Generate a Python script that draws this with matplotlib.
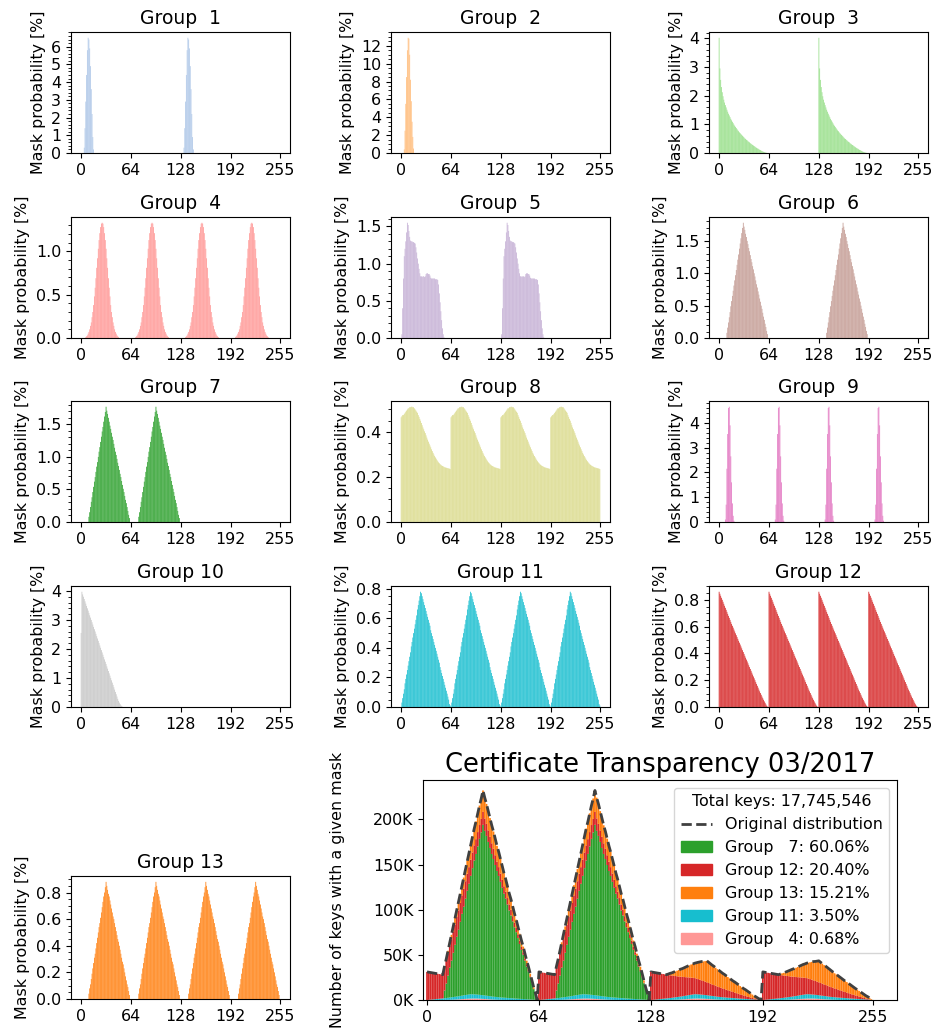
import numpy as np
import matplotlib
matplotlib.use("Agg")
import matplotlib.pyplot as plt
from matplotlib.ticker import MultipleLocator, AutoMinorLocator, FuncFormatter
from matplotlib.patches import Patch
from matplotlib.lines import Line2D

plt.rcParams['font.family'] = 'DejaVu Sans'
plt.rcParams['font.size'] = 11.4

# ---------------------------------------------------------------------------
# Mask probability [%] per group.  Each shape is one copy of the repeating
# pattern; the *_STARTS lists give the first mask value of every copy.
# ---------------------------------------------------------------------------
MASK_TICKS = [0, 64, 128, 192, 255]

G1_SHAPE = [0.3, 1.4, 2.9, 4.4, 5.8, 6.5, 6.4, 5.9, 4.9, 3.6, 2.2, 0.9, 0.2]
G1_STARTS = [4, 132]

G2_SHAPE = [0.4, 2.5, 5.5, 8.5, 11.5, 12.9, 12.8, 11.0, 8.2, 5.8, 3.5, 1.8, 0.5]
G2_STARTS = [4]

G3_SHAPE = [4.02, 2.95, 2.55, 2.30, 2.12, 1.98, 1.86, 1.76, 1.67, 1.59,
            1.51, 1.44, 1.37, 1.31, 1.25, 1.19, 1.14, 1.09, 1.04, 0.99,
            0.95, 0.91, 0.87, 0.83, 0.79, 0.76, 0.72, 0.69, 0.66, 0.63,
            0.60, 0.57, 0.54, 0.51, 0.49, 0.46, 0.44, 0.41, 0.39, 0.37,
            0.34, 0.32, 0.30, 0.28, 0.26, 0.24, 0.22, 0.20, 0.18, 0.16,
            0.15, 0.13, 0.11, 0.10, 0.08, 0.07, 0.05, 0.04, 0.03, 0.02,
            0.01, 0.005]
G3_STARTS = [0, 128]

G4_SHAPE = [0.01, 0.02, 0.03, 0.05, 0.07, 0.10, 0.14, 0.18, 0.24, 0.30,
            0.38, 0.48, 0.58, 0.69, 0.81, 0.92, 1.03, 1.13, 1.21, 1.28,
            1.32, 1.33, 1.32, 1.28, 1.21, 1.13, 1.03, 0.92, 0.81, 0.69,
            0.58, 0.48, 0.38, 0.30, 0.24, 0.18, 0.14, 0.10, 0.07, 0.05,
            0.03, 0.02, 0.01]
G4_STARTS = [6, 70, 134, 198]

G5_SHAPE = [0.0, 0.05, 0.40, 0.80, 1.10, 1.20, 1.30, 1.42, 1.55, 1.52,
            1.44, 1.36, 1.31, 1.30, 1.30, 1.29, 1.29, 1.28, 1.27, 1.22,
            1.15, 1.07, 1.00, 0.93, 0.87, 0.83, 0.83, 0.82, 0.83, 0.83,
            0.82, 0.83, 0.86, 0.87, 0.87, 0.86, 0.86, 0.84, 0.81, 0.80,
            0.80, 0.80, 0.80, 0.80, 0.79, 0.79, 0.79, 0.78, 0.72, 0.60,
            0.48, 0.36, 0.24, 0.13, 0.05, 0.01]
G5_STARTS = [0, 128]

G6_SHAPE = [0.0, 0.08, 0.16, 0.24, 0.32, 0.40, 0.49, 0.57, 0.65, 0.73,
            0.81, 0.89, 0.97, 1.05, 1.13, 1.21, 1.29, 1.38, 1.46, 1.54,
            1.62, 1.70, 1.78, 1.72, 1.67, 1.61, 1.56, 1.50, 1.45, 1.39,
            1.34, 1.28, 1.22, 1.17, 1.11, 1.06, 1.00, 0.95, 0.89, 0.83,
            0.78, 0.72, 0.67, 0.61, 0.56, 0.50, 0.45, 0.39, 0.33, 0.28,
            0.22, 0.17, 0.11, 0.06]
G6_STARTS = [9, 137]

G7_SHAPE = [0.0, 0.08, 0.15, 0.23, 0.31, 0.38, 0.46, 0.54, 0.62, 0.69,
            0.77, 0.85, 0.92, 1.00, 1.08, 1.15, 1.23, 1.31, 1.39, 1.46,
            1.54, 1.62, 1.69, 1.77, 1.71, 1.66, 1.60, 1.54, 1.48, 1.43,
            1.37, 1.31, 1.26, 1.20, 1.14, 1.08, 1.03, 0.97, 0.91, 0.86,
            0.80, 0.74, 0.69, 0.63, 0.57, 0.51, 0.46, 0.40, 0.34, 0.29,
            0.23, 0.17, 0.11, 0.06]
G7_STARTS = [9, 73]

G8_SHAPE = [0.465, 0.470, 0.475, 0.475, 0.480, 0.485, 0.490, 0.495, 0.500, 0.505,
            0.505, 0.510, 0.510, 0.512, 0.512, 0.510, 0.510, 0.505, 0.500, 0.495,
            0.490, 0.485, 0.475, 0.467, 0.458, 0.450, 0.440, 0.430, 0.420, 0.412,
            0.403, 0.395, 0.385, 0.375, 0.366, 0.357, 0.348, 0.340, 0.332, 0.323,
            0.315, 0.307, 0.300, 0.293, 0.287, 0.281, 0.275, 0.270, 0.265, 0.261,
            0.257, 0.254, 0.251, 0.249, 0.247, 0.245, 0.243, 0.242, 0.241, 0.240,
            0.239, 0.238, 0.237, 0.235]
G8_STARTS = [0, 64, 128, 192]

G9_SHAPE = [0.1, 0.7, 2.15, 3.55, 4.6, 4.65, 3.9, 2.65, 1.6, 0.75, 0.25, 0.05]
G9_STARTS = [8, 72, 136, 200]

G10_SHAPE = [2.55, 3.97, 3.88, 3.80, 3.72, 3.64, 3.56, 3.48, 3.40, 3.32,
             3.24, 3.16, 3.08, 3.00, 2.92, 2.84, 2.76, 2.68, 2.60, 2.52,
             2.44, 2.36, 2.28, 2.20, 2.12, 2.04, 1.96, 1.88, 1.80, 1.72,
             1.64, 1.56, 1.48, 1.40, 1.32, 1.24, 1.16, 1.08, 1.00, 0.92,
             0.84, 0.76, 0.68, 0.60, 0.52, 0.44, 0.36, 0.28, 0.21, 0.15,
             0.10, 0.06, 0.03, 0.01]
G10_STARTS = [0]

G11_SHAPE = [0.0, 0.03, 0.06, 0.09, 0.12, 0.16, 0.19, 0.22, 0.25, 0.28,
             0.31, 0.34, 0.37, 0.41, 0.44, 0.47, 0.50, 0.53, 0.56, 0.59,
             0.62, 0.66, 0.69, 0.72, 0.75, 0.78, 0.77, 0.75, 0.73, 0.71,
             0.69, 0.67, 0.65, 0.63, 0.61, 0.59, 0.57, 0.55, 0.52, 0.50,
             0.48, 0.46, 0.44, 0.42, 0.40, 0.38, 0.36, 0.34, 0.32, 0.30,
             0.27, 0.25, 0.23, 0.21, 0.19, 0.17, 0.15, 0.13, 0.11, 0.09,
             0.07, 0.05, 0.02, 0.01]
G11_STARTS = [0, 64, 128, 192]

G12_SHAPE = [0.860, 0.845, 0.830, 0.815, 0.800, 0.785, 0.770, 0.755, 0.740, 0.725,
             0.710, 0.695, 0.680, 0.665, 0.650, 0.635, 0.620, 0.606, 0.592, 0.578,
             0.564, 0.550, 0.536, 0.522, 0.508, 0.494, 0.480, 0.466, 0.452, 0.438,
             0.424, 0.410, 0.396, 0.382, 0.368, 0.354, 0.340, 0.326, 0.312, 0.298,
             0.284, 0.270, 0.256, 0.242, 0.228, 0.214, 0.200, 0.186, 0.172, 0.158,
             0.144, 0.130, 0.117, 0.104, 0.091, 0.078, 0.066, 0.054, 0.042, 0.031,
             0.020, 0.010, 0.003, 0.0]
G12_STARTS = [0, 64, 128, 192]

G13_SHAPE = [0.0, 0.04, 0.08, 0.11, 0.15, 0.19, 0.23, 0.27, 0.31, 0.34,
             0.38, 0.42, 0.46, 0.50, 0.54, 0.57, 0.61, 0.65, 0.69, 0.73,
             0.77, 0.80, 0.84, 0.88, 0.85, 0.82, 0.79, 0.77, 0.74, 0.71,
             0.68, 0.65, 0.62, 0.60, 0.57, 0.54, 0.51, 0.48, 0.45, 0.43,
             0.40, 0.37, 0.34, 0.31, 0.28, 0.26, 0.23, 0.20, 0.17, 0.14,
             0.11, 0.09, 0.06, 0.03]
G13_STARTS = [9, 73, 137, 201]

GROUP_COLORS = ['#aec7e8', '#ffbb78', '#98df8a', '#ff9896', '#c5b0d5',
                '#c49c94', '#2ca02c', '#dbdb8d', '#e377c2', '#c7c7c7',
                '#17becf', '#d62728', '#ff7f0e']

# Certificate Transparency 03/2017 dataset
TOTAL_KEYS = 17745546
CT_GROUPS = [7, 12, 13, 11, 4]
CT_SHARES = [60.06, 20.40, 15.21, 3.50, 0.68]

MASKS = np.arange(256)


def spread(shape, starts):
    """Place copies of a shape at the given first masks."""
    pmf = np.zeros(256)
    for s in starts:
        n = min(len(shape), 256 - s)
        pmf[s:s + n] = shape[:n]
    return pmf


pmfs = {
    1: spread(G1_SHAPE, G1_STARTS),
    2: spread(G2_SHAPE, G2_STARTS),
    3: spread(G3_SHAPE, G3_STARTS),
    4: spread(G4_SHAPE, G4_STARTS),
    5: spread(G5_SHAPE, G5_STARTS),
    6: spread(G6_SHAPE, G6_STARTS),
    7: spread(G7_SHAPE, G7_STARTS),
    8: spread(G8_SHAPE, G8_STARTS),
    9: spread(G9_SHAPE, G9_STARTS),
    10: spread(G10_SHAPE, G10_STARTS),
    11: spread(G11_SHAPE, G11_STARTS),
    12: spread(G12_SHAPE, G12_STARTS),
    13: spread(G13_SHAPE, G13_STARTS),
}

y_steps = {1: 1, 2: 2, 3: 1, 4: 0.5, 5: 0.5, 6: 0.5, 7: 0.5, 8: 0.2,
           9: 1, 10: 1, 11: 0.2, 12: 0.2, 13: 0.2}

# ---------------------------------------------------------------------------
W, H = 936, 1030
fig = plt.figure(figsize=(W / 100, H / 100), dpi=100)


def px_axes(left, top, right, bottom):
    return fig.add_axes([left / W, 1 - bottom / H,
                         (right - left) / W, (bottom - top) / H])


COLS = [(71, 290), (391, 610), (709, 928)]
ROWS = [(32, 153), (217, 338), (401, 522), (586, 707)]


def draw_group(ax, num):
    ax.bar(MASKS, pmfs[num], width=1.0, color=GROUP_COLORS[num - 1],
           linewidth=0, snap=False)
    ax.set_xlim(-13, 268)
    ax.set_xticks(MASK_TICKS)
    ax.yaxis.set_major_locator(MultipleLocator(y_steps[num]))
    ax.yaxis.set_minor_locator(AutoMinorLocator())
    ax.set_ylabel('Mask probability [%]')
    ax.set_title(f'Group {num:2d}', fontsize=13.5)


for i in range(12):
    r, c = divmod(i, 3)
    ax = px_axes(COLS[c][0], ROWS[r][0], COLS[c][1], ROWS[r][1])
    draw_group(ax, i + 1)

ax13 = px_axes(71, 876, 290, 999)
draw_group(ax13, 13)

# ---------------------------------------------------------------------------
# Stacked keys per mask for the Certificate Transparency dataset
ax = px_axes(423, 780, 897, 1000)
share = dict(zip(CT_GROUPS, CT_SHARES))
stack_order = [4, 11, 7, 12, 13]
bottom = np.zeros(256)
for g in stack_order:
    keys = TOTAL_KEYS * share[g] / 100.0 * pmfs[g] / 100.0
    ax.bar(MASKS, keys, width=1.0, bottom=bottom, color=GROUP_COLORS[g - 1],
           linewidth=0, snap=False)
    bottom = bottom + keys
ax.plot(MASKS, bottom, ls='--', color='#404040', lw=2)

ax.set_xlim(-2.3, 268.7)
ax.set_xticks(MASK_TICKS)
ax.yaxis.set_major_locator(MultipleLocator(50000))
ax.yaxis.set_major_formatter(FuncFormatter(lambda v, p: f'{v / 1000:.0f}K'))
ax.set_ylabel('Number of keys with a given mask', labelpad=20)
ax.set_title('Certificate Transparency 03/2017', fontsize=18.5)

handles = [Line2D([], [], ls='--', color='#404040', lw=2)]
labels = ['Original distribution']
for g, s in zip(CT_GROUPS, CT_SHARES):
    handles.append(Patch(color=GROUP_COLORS[g - 1]))
    pad = '  ' * (2 - len(str(g)))
    labels.append(f'Group {pad}{g}: {s:.2f}%')
ax.legend(handles, labels, loc='upper right',
          title=f'Total keys: {TOTAL_KEYS:,}', title_fontsize=11.4,
          fontsize=11.4)

fig.savefig('out.png', dpi=100)
